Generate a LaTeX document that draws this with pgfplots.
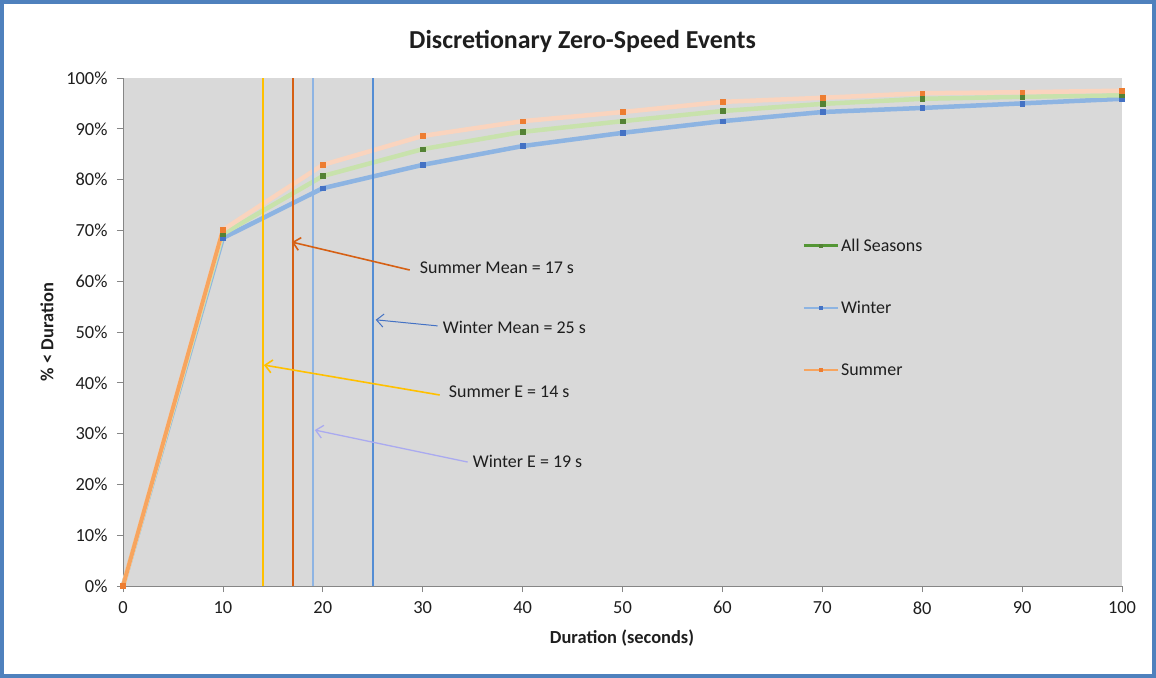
\documentclass[border=0pt]{standalone}
\usepackage{fontspec}
\setmainfont{Carlito}
\usepackage{pgfplots}
\usepackage{pgfplotstable}
\pgfplotsset{compat=1.18}
\usetikzlibrary{arrows.meta}
\definecolor{plotbg}{RGB}{217,217,217}
\definecolor{framec}{RGB}{79,129,189}
\definecolor{axisc}{RGB}{134,134,134}
\definecolor{txt}{RGB}{30,30,30}
\definecolor{sumline}{RGB}{250,212,190}
\definecolor{sumstrong}{RGB}{247,165,95}
\definecolor{allline}{RGB}{200,226,172}
\definecolor{winline}{RGB}{141,180,226}
\definecolor{summark}{RGB}{237,125,49}
\definecolor{allmark}{RGB}{84,130,53}
\definecolor{winmark}{RGB}{68,114,196}
\definecolor{vyellow}{RGB}{255,192,0}
\definecolor{vorange}{RGB}{214,96,20}
\definecolor{vlblue}{RGB}{142,180,227}
\definecolor{vblue}{RGB}{84,141,212}
\definecolor{alegend}{RGB}{84,150,53}
\definecolor{lavender}{RGB}{170,170,240}

\pgfplotstableread{
x summer all winter
0 0 0 0
10 70.1 69.3 68.5
20 82.9 80.7 78.3
30 88.6 86.0 82.9
40 91.5 89.4 86.6
50 93.3 91.5 89.2
60 95.3 93.5 91.5
70 96.1 94.9 93.3
80 97.0 95.9 94.1
90 97.2 96.3 95.0
100 97.5 96.6 95.9
}\data

\begin{document}
\begin{tikzpicture}
\begin{axis}[
  at={(0,0)}, anchor=south west,
  scale only axis, width=999bp, height=508bp,
  xmin=0, xmax=100, ymin=0, ymax=100,
  axis lines*=left,
  axis line style={axisc, line width=0.8bp},
  axis background/.style={fill=plotbg},
  tick align=outside, major tick length=6bp,
  tick style={axisc, line width=0.8bp},
  xtick={0,10,...,100}, ytick={0,10,...,100},
  yticklabel={\pgfmathprintnumber{\tick}\%},
  /pgf/number format/assume math mode=true,
  ticklabel style={font=\fontsize{18.5}{20}\selectfont, text=txt},
  xticklabel style={yshift=-6bp},
  yticklabel style={xshift=-6bp},
  xlabel={\bfseries Duration (seconds)},
  ylabel={\bfseries \% < Duration},
  xlabel style={at={(axis description cs:0.4995,-0.102)}, anchor=center, font=\fontsize{18.5}{20}\selectfont, text=txt},
  ylabel style={at={(axis description cs:-0.0761,0.5)}, anchor=center, rotate=0, font=\fontsize{18.5}{20}\selectfont, text=txt},
  title={\bfseries Discretionary Zero-Speed Events},
  title style={at={(axis description cs:0.46,1)}, anchor=center, yshift=31bp, font=\fontsize{26}{28}\selectfont, text=txt},
  clip=false,
  legend style={at={(axis cs:68,68.8)}, anchor=north west, draw=none, fill=none,
    font=\fontsize{18}{20}\selectfont, text=txt, row sep=44.5bp, inner sep=0pt,
    /tikz/every even column/.append style={column sep=2bp}},
  legend cell align=left,
]
% data lines
\addplot[winline, line width=4.5bp, forget plot] table[x=x,y=winter]{\data};
\addplot[allline, line width=4.5bp, forget plot] table[x=x,y=all]{\data};
\addplot[sumline, line width=4.5bp, forget plot] table[x=x,y=summer]{\data};
\addplot[sumstrong, line width=4bp, forget plot, restrict x to domain=0:10] table[x=x,y=summer]{\data};
% vertical reference lines
\addplot[vyellow, line width=1.8bp, forget plot] coordinates {(14,0) (14,100)};
\addplot[vorange, line width=1.8bp, forget plot] coordinates {(17,0) (17,100)};
\addplot[vlblue, line width=1.8bp, forget plot] coordinates {(19,0) (19,100)};
\addplot[vblue, line width=1.5bp, forget plot] coordinates {(25,0) (25,100)};
% markers
\addplot[only marks, mark=square*, mark size=2.4bp, color=winmark, forget plot] table[x=x,y=winter]{\data};
\addplot[only marks, mark=square*, mark size=2.4bp, color=allmark, forget plot] table[x=x,y=all]{\data};
\addplot[only marks, mark=square*, mark size=2.4bp, color=summark, forget plot] table[x=x,y=summer]{\data};
% legend
\addlegendimage{legend image code/.code={\draw[line width=2.5bp, color=alegend] (0bp,0bp)--(34bp,0bp); \fill[allmark] (15.5bp,-1.5bp) rectangle (18.5bp,1.5bp);}}
\addlegendentry{All Seasons}
\addlegendimage{legend image code/.code={\draw[line width=2.5bp, color=winline] (0bp,0bp)--(34bp,0bp); \fill[winmark] (15.5bp,-1.5bp) rectangle (18.5bp,1.5bp);}}
\addlegendentry{Winter}
\addlegendimage{legend image code/.code={\draw[line width=2.5bp, color=sumstrong] (0bp,0bp)--(34bp,0bp); \fill[summark] (15.5bp,-1.5bp) rectangle (18.5bp,1.5bp);}}
\addlegendentry{Summer}
% annotations
\draw[-{Straight Barb[length=7bp,width=13bp]}, color=vorange, line width=1.6bp] (axis cs:28.7,62.2) -- (axis cs:16.9,67.7);
\node[anchor=west, font=\fontsize{18}{20}\selectfont, text=txt, inner sep=0pt] at (axis cs:29.7,62.6) {Summer Mean = 17 s};
\draw[-{Straight Barb[length=7bp,width=13bp]}, color=winmark, line width=1bp] (axis cs:31.5,51.2) -- (axis cs:25.3,52.4);
\node[anchor=west, font=\fontsize{18}{20}\selectfont, text=txt, inner sep=0pt] at (axis cs:32.0,51.0) {Winter Mean = 25 s};
\draw[-{Straight Barb[length=7bp,width=13bp]}, color=vyellow, line width=1.6bp] (axis cs:31.7,37.6) -- (axis cs:14.1,43.5);
\node[anchor=west, font=\fontsize{18}{20}\selectfont, text=txt, inner sep=0pt] at (axis cs:32.6,38.2) {Summer E = 14 s};
\draw[-{Straight Barb[length=7bp,width=13bp]}, color=lavender, line width=1.3bp] (axis cs:34.5,24.4) -- (axis cs:19.2,30.7);
\node[anchor=west, font=\fontsize{18}{20}\selectfont, text=txt, inner sep=0pt] at (axis cs:35.0,24.6) {Winter E = 19 s};
\end{axis}
\draw[framec, line width=3.5bp] (-121bp,-90bp) rectangle (1031bp,584bp);
\pgfresetboundingbox
\path (-123bp,-92bp) rectangle (1033bp,586bp);
\end{tikzpicture}
\end{document}
